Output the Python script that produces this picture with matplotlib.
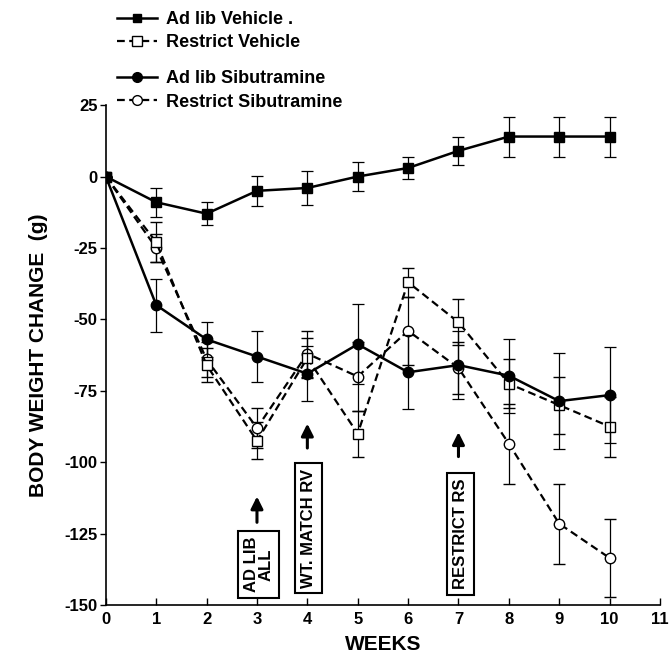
import matplotlib.pyplot as plt
from matplotlib.lines import Line2D

plt.rcParams['font.family'] = ['Liberation Sans', 'DejaVu Sans']
plt.rcParams['font.weight'] = 'bold'
plt.rcParams['axes.unicode_minus'] = False

weeks = [0, 1, 2, 3, 4, 5, 6, 7, 8, 9, 10]

# Ad lib Vehicle (filled square, solid)
adlib_veh = [0, -9, -13, -5, -4, 0, 3, 9, 14, 14, 14]
adlib_veh_err = [0, 5, 4, 5.2, 5.8, 5, 3.8, 5, 7, 7, 7]

# Restrict Vehicle (open square, dashed)
restr_veh = [0, -23, -66, -92.5, -63.5, -90, -37, -51, -72.5, -80, -87.5]
restr_veh_err = [0, 7, 6, 6.5, 7, 8, 5, 8, 8.5, 10, 10.5]

# Ad lib Sibutramine (filled circle, solid)
adlib_sib = [0, -45, -57, -63, -69, -58.7, -68.5, -66, -69.7, -78.6, -76.5]
adlib_sib_err = [0, 9.3, 6, 9, 9.6, 14, 13, 12, 13, 16.8, 16.7]

# Restrict Sibutramine (open circle, dashed)
restr_sib = [0, -25, -64, -88, -62, -70, -54, -67, -93.5, -121.5, -133.5]
restr_sib_err = [0, 5, 6, 7, 8, 12, 12, 9, 14, 14, 13.5]

fig = plt.figure(figsize=(6.7, 6.57), dpi=100)
ax = fig.add_axes([0.158, 0.079, 0.827, 0.761])

dash = (0, (3.5, 2))
ebkw = dict(ecolor='black', elinewidth=0.9, capsize=4, capthick=0.9)

ax.errorbar(weeks, restr_sib, yerr=restr_sib_err, color='black', lw=1.6, ls=dash,
            marker='o', ms=7.5, mfc='white', mec='black', mew=1.0, zorder=3, **ebkw)
ax.errorbar(weeks, restr_veh, yerr=restr_veh_err, color='black', lw=1.6, ls=dash,
            marker='s', ms=7, mfc='white', mec='black', mew=1.0, zorder=3, **ebkw)
ax.errorbar(weeks, adlib_sib, yerr=adlib_sib_err, color='black', lw=1.8, ls='-',
            marker='o', ms=7.5, mfc='black', mec='black', zorder=4, **ebkw)
ax.errorbar(weeks, adlib_veh, yerr=adlib_veh_err, color='black', lw=1.8, ls='-',
            marker='s', ms=7, mfc='black', mec='black', zorder=4, **ebkw)

ax.set_xlim(0, 11)
ax.set_ylim(-150, 25)
ax.set_xticks(range(0, 12))
ax.set_yticks([25, 0, -25, -50, -75, -100, -125, -150])
ax.spines['top'].set_visible(False)
ax.spines['right'].set_visible(False)
ax.spines['left'].set_linewidth(1.2)
ax.spines['bottom'].set_linewidth(1.2)
ax.tick_params(axis='x', direction='in', length=5, width=1.0, labelsize=12, pad=5)
ax.tick_params(axis='y', direction='out', length=4, width=1.0, labelsize=12, pad=2)
for lbl in ax.get_xticklabels() + ax.get_yticklabels():
    lbl.set_fontweight('bold')

ax.set_xlabel('WEEKS', fontsize=15, fontweight='bold', labelpad=6)
ax.set_ylabel('BODY WEIGHT CHANGE  (g)', fontsize=15, fontweight='bold', labelpad=12)

# event arrows and boxed labels
arrow = dict(arrowstyle='-|>', lw=2.2, color='black', mutation_scale=18)
ax.annotate('', xy=(3, -111), xytext=(3, -122), arrowprops=arrow)
ax.annotate('', xy=(4, -85.5), xytext=(4, -96), arrowprops=arrow)
ax.annotate('', xy=(7, -88.5), xytext=(7, -99), arrowprops=arrow)

box = dict(boxstyle='square,pad=0.35', fc='white', ec='black', lw=1.5)
ax.text(3.03, -135.8, 'AD LIB\nALL', rotation=90, ha='center', va='center',
        fontsize=12, fontweight='bold', bbox=box, linespacing=0.95)
ax.text(4.02, -123, 'WT. MATCH RV', rotation=90, ha='center', va='center',
        fontsize=12, fontweight='bold', bbox=box)
ax.text(7.04, -125, 'RESTRICT RS', rotation=90, ha='center', va='center',
        fontsize=12, fontweight='bold', bbox=box)

# legend, in two groups
h_av = Line2D([], [], color='black', lw=1.8, marker='s', ms=6, mfc='black')
h_rv = Line2D([], [], color='black', lw=1.6, ls=dash, marker='s', ms=7, mfc='white')
h_as = Line2D([], [], color='black', lw=1.8, marker='o', ms=7, mfc='black')
h_rs = Line2D([], [], color='black', lw=1.6, ls=dash, marker='o', ms=7, mfc='white')

legkw = dict(frameon=False, handlelength=2.2, handletextpad=0.5, labelspacing=0.35,
             borderaxespad=0, borderpad=0,
             prop={'weight': 'bold', 'size': 13})
fig.legend([h_av, h_rv], ['Ad lib Vehicle .', 'Restrict Vehicle'],
           loc='upper left', bbox_to_anchor=(0.175, 0.983), **legkw)
fig.legend([h_as, h_rs], ['Ad lib Sibutramine', 'Restrict Sibutramine'],
           loc='upper left', bbox_to_anchor=(0.175, 0.893), **legkw)

fig.savefig('out.png', dpi=100)
